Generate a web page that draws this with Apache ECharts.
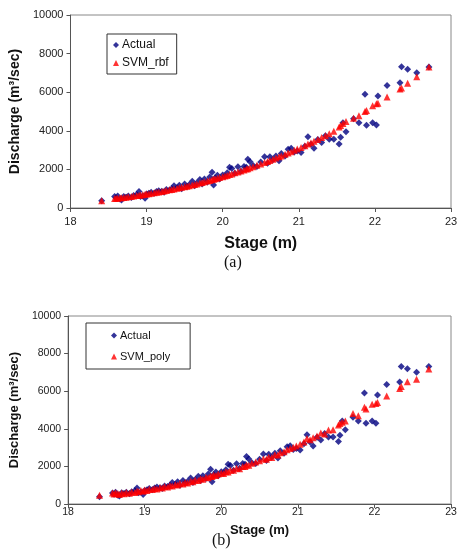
<!DOCTYPE html>
<html>
<head>
<meta charset="utf-8">
<script src="https://cdn.jsdelivr.net/npm/echarts@6/dist/echarts.min.js"></script>
<style>
  html, body { margin: 0; padding: 0; background: #fff; }
  #chart { width: 463px; height: 549px; }
</style>
</head>
<body>
<div id="chart"></div>
<script>
// stage (m) of each observation, shared by both panels
const stage = [
  18.41, 18.58, 18.60, 18.62, 18.65, 18.67, 18.70, 18.73, 18.76, 18.80,
  18.83, 18.87, 18.90, 18.92, 18.95, 18.98, 19.00, 19.03, 19.06, 19.10,
  19.13, 19.16, 19.20, 19.23, 19.26, 19.30, 19.33, 19.36, 19.40, 19.43,
  19.46, 19.50, 19.53, 19.56, 19.60, 19.63, 19.66, 19.70, 19.73, 19.76,
  19.80, 19.83, 19.86, 19.88, 19.90, 19.93, 19.96, 20.00, 20.03, 20.06,
  20.09, 20.12, 20.16, 20.20, 20.24, 20.28, 20.31, 20.33, 20.36, 20.40,
  20.45, 20.50, 20.55, 20.59, 20.62, 20.66, 20.70, 20.74, 20.77, 20.82,
  20.86, 20.90, 20.94, 20.98, 21.03, 21.08, 21.12, 21.16, 21.20, 21.25,
  21.30, 21.35, 21.40, 21.46, 21.53, 21.55, 21.58, 21.62, 21.72, 21.79,
  21.87, 21.89, 21.97, 22.02, 22.04, 22.16, 22.33, 22.35, 22.43, 22.55,
  22.71
];

const actual = [
  380, 590, 520, 620, 470, 420, 600, 560, 620, 540,
  650, 700, 850, 600, 640, 500, 720, 760, 820, 760,
  850, 900, 870, 820, 960, 930, 1000, 1150, 1050, 1180,
  1000, 1250, 1120, 1200, 1380, 1150, 1300, 1480, 1250, 1500,
  1350, 1600, 1850, 1190, 1560, 1700, 1500, 1710, 1650, 1820,
  2110, 2050, 1800, 2140, 1900, 2150, 2110, 2520, 2400, 2200,
  2150, 2380, 2660, 2320, 2650, 2500, 2700, 2450, 2830, 2700,
  3040, 3100, 2900, 2950, 2870, 3200, 3690, 3300, 3090, 3550,
  3400, 3750, 3560, 3560, 3320, 3660, 4420, 3950, 4620, 4420,
  5900, 4290, 4420, 4300, 5800, 6350, 6490, 7320, 7190, 7010,
  7310
];

const svmRbf = [
  380, 490, 500, 510, 525, 530, 545, 560, 580, 600,
  620, 645, 660, 675, 690, 710, 720, 740, 760, 790,
  810, 835, 860, 885, 910, 940, 965, 990, 1020, 1045,
  1070, 1100, 1125, 1155, 1190, 1220, 1250, 1290, 1320, 1355,
  1400, 1430, 1465, 1490, 1510, 1545, 1575, 1620, 1655, 1690,
  1730, 1765, 1820, 1870, 1920, 1975, 2015, 2040, 2080, 2140,
  2210, 2280, 2355, 2415, 2460, 2525, 2590, 2655, 2700, 2785,
  2850, 2920, 2990, 3055, 3140, 3230, 3310, 3385, 3460, 3555,
  3650, 3750, 3850, 3980, 4200, 4280, 4380, 4480, 4650, 4780,
  5000, 5050, 5300, 5400, 5430, 5750, 6170, 6220, 6470, 6800,
  7300
];

const svmPoly = [
  460, 580, 530, 600, 560, 510, 580, 540, 610, 570,
  640, 610, 690, 650, 720, 680, 740, 720, 790, 770,
  830, 800, 880, 850, 930, 900, 980, 960, 1040, 1010,
  1090, 1070, 1140, 1120, 1210, 1180, 1270, 1250, 1340, 1320,
  1420, 1390, 1490, 1460, 1540, 1520, 1600, 1650, 1620, 1720,
  1700, 1800, 1790, 1900, 1880, 2000, 1990, 2080, 2060, 2170,
  2240, 2300, 2390, 2380, 2490, 2480, 2620, 2600, 2730, 2780,
  2880, 2950, 3020, 3080, 3180, 3300, 3480, 3420, 3520, 3620,
  3780, 3720, 3930, 3950, 4200, 4280, 4350, 4420, 4815, 4700,
  5150, 5050, 5300, 5350, 5400, 5740, 6150, 6250, 6500, 6630,
  7180
];

const xTicks = { min: 18, max: 23, interval: 1 };
const yTicks = { min: 0, max: 10000, interval: 2000 };

const pairs = vals => stage.map((s, i) => [s, vals[i]]);

const font = 'Liberation Sans, Arial, sans-serif';

function xAxis(grid, labelSize, margin, nameSize, nameGap) {
  return {
    type: 'value', gridIndex: grid,
    min: xTicks.min, max: xTicks.max, interval: xTicks.interval,
    name: 'Stage (m)', nameLocation: 'middle', nameGap: nameGap,
    nameTextStyle: { fontFamily: font, fontWeight: 'bold', fontSize: nameSize, color: '#111' },
    axisLine: { lineStyle: { color: '#555', width: 1 } },
    axisTick: { show: true, inside: false, length: 4, lineStyle: { color: '#555' } },
    axisLabel: { fontFamily: font, fontSize: labelSize, color: '#222', margin: margin },
    splitLine: { show: false }
  };
}

function yAxis(grid, labelSize, nameSize, nameGap) {
  return {
    type: 'value', gridIndex: grid,
    min: yTicks.min, max: yTicks.max, interval: yTicks.interval,
    name: 'Discharge (m³/sec)', nameLocation: 'middle', nameRotate: 90, nameGap: nameGap,
    nameTextStyle: { fontFamily: font, fontWeight: 'bold', fontSize: nameSize, color: '#111' },
    axisLine: { show: true, lineStyle: { color: '#555', width: 1 } },
    axisTick: { show: true, inside: false, length: 4, lineStyle: { color: '#555' } },
    axisLabel: { fontFamily: font, fontSize: labelSize, color: '#222', margin: 7, formatter: v => String(v) },
    splitLine: { show: false }
  };
}

const actualStyle = { symbol: 'diamond', symbolSize: 7, itemStyle: { color: '#000080' } };
const predStyle = { symbol: 'triangle', symbolSize: 7, itemStyle: { color: '#ff0000' } };

const chart = echarts.init(document.getElementById('chart'), null, { renderer: 'canvas' });
chart.setOption({
  animation: false,
  backgroundColor: '#fff',
  grid: [
    { left: 68, right: 12, top: 15, height: 193, show: true, borderColor: '#888', borderWidth: 1, backgroundColor: 'transparent' },
    { left: 63, right: 12, top: 316, height: 188, show: true, borderColor: '#888', borderWidth: 1, backgroundColor: 'transparent' }
  ],
  xAxis: [xAxis(0, 11, 8, 16, 28), xAxis(1, 10.5, 3, 13, 20)],
  yAxis: [yAxis(0, 11, 14, 48), yAxis(1, 10.5, 13, 46)],
  legend: [
    {
      data: [
        { name: 'Actual', icon: 'diamond' },
        { name: 'SVM_rbf', icon: 'triangle' }
      ],
      orient: 'vertical', left: 107, top: 34,
      width: 71,
      itemWidth: 6, itemHeight: 6, itemGap: 6,
      padding: [5, 8, 5, 6],
      borderColor: '#333', borderWidth: 1, backgroundColor: '#fff',
      textStyle: { fontFamily: font, fontSize: 12, color: '#111', padding: [0, 0, 0, -2] }
    },
    {
      data: [
        { name: 'Actual', icon: 'diamond' },
        { name: 'SVM_poly', icon: 'triangle' }
      ],
      orient: 'vertical', left: 86, top: 323,
      itemWidth: 6, itemHeight: 6, itemGap: 10,
      padding: [7, 20, 7, 25],
      borderColor: '#333', borderWidth: 1, backgroundColor: '#fff',
      textStyle: { fontFamily: font, fontSize: 11, color: '#111', padding: [0, 0, 0, -2] }
    }
  ],
  graphic: [
    { type: 'text', left: 224, top: 255, style: { text: '(a)', font: '16px "Liberation Serif", serif', fill: '#111' } },
    { type: 'text', left: 212, top: 533, style: { text: '(b)', font: '16px "Liberation Serif", serif', fill: '#111' } }
  ],
  series: [
    Object.assign({ name: 'Actual', type: 'scatter', xAxisIndex: 0, yAxisIndex: 0, data: pairs(actual) }, actualStyle),
    Object.assign({ name: 'SVM_rbf', type: 'scatter', xAxisIndex: 0, yAxisIndex: 0, data: pairs(svmRbf) }, predStyle),
    Object.assign({ name: 'Actual', type: 'scatter', xAxisIndex: 1, yAxisIndex: 1, data: pairs(actual) }, actualStyle),
    Object.assign({ name: 'SVM_poly', type: 'scatter', xAxisIndex: 1, yAxisIndex: 1, data: pairs(svmPoly) }, predStyle)
  ]
});
</script>
</body>
</html>
